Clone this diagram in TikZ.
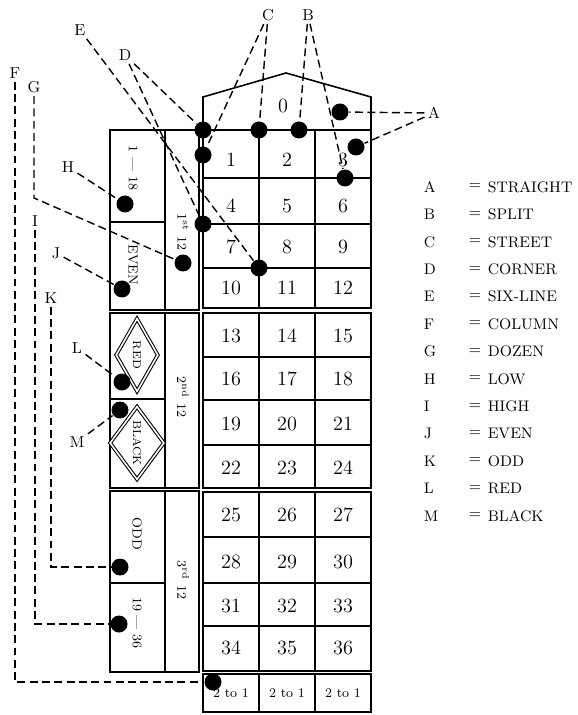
\documentclass[tikz,border=0pt]{standalone}
\usepackage{tikz}
\usetikzlibrary{shapes,arrows}

\begin{document}
\begin{tikzpicture}[x=0.02cm,y=-0.02cm,line width=0.9pt]
\tikzstyle{every node} = [font=\fontsize{11.5}{13}\selectfont]
\tikzstyle{chip} = [circle, fill=black, inner sep=0pt, minimum size=0.34cm]
\tikzstyle{tag} = [font=\fontsize{9}{11}\selectfont, inner sep=1.5pt]
\tikzstyle{lead} = [dash pattern=on 4.5pt off 2.5pt, line width=0.8pt]
\tikzstyle{side} = [rotate=-90, font=\fontsize{7.5}{9}\selectfont, inner sep=1pt]
\tikzstyle{gem} = [diamond, draw, double, double distance=0.9pt, line width=0.6pt, rotate=-90, minimum width=1.46cm, minimum height=0.84cm, inner sep=0pt, font=\fontsize{6.5}{8}\selectfont]
\tikzstyle{key} = [anchor=west, font=\fontsize{8.7}{10}\selectfont, inner sep=0pt]
\useasboundingbox (0,0) rectangle (577,715);
% zero
\draw (203,130) -- (203,97) -- (286,73) -- (371,97) -- (371,130);
\node (zero) at (283,106) {0};
% number blocks
\draw (203,130) rectangle (371,308);
\draw (203,313) rectangle (371,488);
\draw (203,492) rectangle (371,671);
\draw (203,674) rectangle (371,712);
\foreach \x in {259,315}{
  \draw (\x,130) -- (\x,308);
  \draw (\x,313) -- (\x,488);
  \draw (\x,492) -- (\x,671);
  \draw (\x,674) -- (\x,712);
}
\foreach \y in {178,224,268,357,400,445,537,583,626}
  \draw (203,\y) -- (371,\y);
\foreach \y [count=\r from 0] in {160,206,247,288,336,379,424,468,515,562,606,648}
  \foreach \x [count=\c from 1] in {231,287,343}{
    \pgfmathtruncatemacro{\num}{3*\r+\c}
    \node (n\num) at (\x,\y) {\num};
  }
\foreach \x [count=\c] in {231,287,343}
  \node[font=\fontsize{7.5}{9}\selectfont] (col\c) at (\x,693) {2 to 1};
% outside bets
\draw (110,130) rectangle (199,310);
\draw (110,313) rectangle (199,488);
\draw (110,491) rectangle (199,672);
\draw (165,130) -- (165,310);
\draw (165,313) -- (165,488);
\draw (165,491) -- (165,672);
\draw (110,222) -- (165,222);
\draw (110,399) -- (165,399);
\draw (110,583) -- (165,583);
\node[side] (low) at (133,168) {1 --- 18};
\node[side] (even) at (133,265) {EVEN};
\node[gem] (red) at (137,355) {RED};
\node[gem] (black) at (137,443) {BLACK};
\node[side] (odd) at (137,534) {ODD};
\node[side] (high) at (137,623) {19 --- 36};
\node[side] (doz1) at (183,232) {1\textsuperscript{st} 12};
\node[side] (doz2) at (183,397) {2\textsuperscript{nd} 12};
\node[side] (doz3) at (183,580) {3\textsuperscript{rd} 12};
% chips
\node[chip] (a1) at (340,112) {};
\node[chip] (a2) at (356,147) {};
\node[chip] (b1) at (299,130) {};
\node[chip] (b2) at (345,178) {};
\node[chip] (c1) at (259,130) {};
\node[chip] (c2) at (203,155) {};
\node[chip] (d1) at (203,130) {};
\node[chip] (d2) at (203,224) {};
\node[chip] (e1) at (259,268) {};
\node[chip] (f1) at (213,682) {};
\node[chip] (g1) at (183,263) {};
\node[chip] (h1) at (125,204) {};
\node[chip] (i1) at (119,624) {};
\node[chip] (j1) at (122,289) {};
\node[chip] (k1) at (120,567) {};
\node[chip] (l1) at (122,382) {};
\node[chip] (m1) at (120,410) {};
% labels
\node[tag] (A) at (434,113) {A};
\node[tag] (B) at (308,15) {B};
\node[tag] (C) at (268,15) {C};
\node[tag] (D) at (125,55) {D};
\node[tag] (E) at (80,30) {E};
\node[tag] (F) at (15,73) {F};
\node[tag] (G) at (34,87) {G};
\node[tag] (H) at (68,167) {H};
\node[tag] (I) at (35,221) {I};
\node[tag] (J) at (56,253) {J};
\node[tag] (K) at (51,298) {K};
\node[tag] (L) at (77,348) {L};
\node[tag] (M) at (77,442) {M};
\coordinate (gbend) at (34,198);
\draw[lead] (A) -- (a1);
\draw[lead] (A) -- (a2);
\draw[lead] (B) -- (b1);
\draw[lead] (B) -- (b2);
\draw[lead] (C) -- (c1);
\draw[lead] (C) -- (c2);
\draw[lead] (D) -- (d1);
\draw[lead] (D) -- (d2);
\draw[lead] (E) -- (e1);
\draw[lead] (F) |- (f1);
\draw[lead] (G) -- (gbend) -- (g1);
\draw[lead] (H) -- (h1);
\draw[lead] (I) |- (i1);
\draw[lead] (J) -- (j1);
\draw[lead] (K) |- (k1);
\draw[lead] (L) -- (l1);
\draw[lead] (M) -- (m1);
% legend
\foreach \k/\w [count=\i from 0] in {A/STRAIGHT,B/SPLIT,C/STREET,D/CORNER,E/SIX-LINE,F/COLUMN,G/DOZEN,H/LOW,I/HIGH,J/EVEN,K/ODD,L/RED,M/BLACK}{
  \node[key] (lk\i) at (423,{187+27.4*\i}) {\k};
  \node[key] (le\i) at (468,{187+27.4*\i}) {=};
  \node[key] (lw\i) at (487,{187+27.4*\i}) {\w};
}
\end{tikzpicture}
\end{document}
